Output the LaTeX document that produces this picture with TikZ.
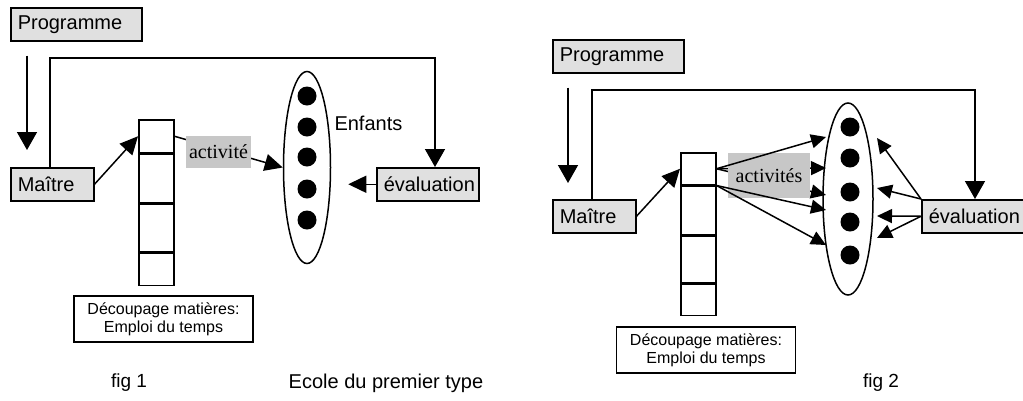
\documentclass[tikz,border=0pt]{standalone}
\usepackage{fontspec}
\setmainfont{Liberation Sans}
\newfontfamily\actfont{Liberation Serif}
\usetikzlibrary{arrows.meta,shapes.geometric}
\tikzset{
	box/.style={draw=black, line width=1.5pt, fill=black!12, inner xsep=7pt, inner ysep=0pt, minimum height=33pt, align=left, anchor=north west, font=\fontsize{20}{24}\selectfont},
	cell/.style={draw=black, line width=1.5pt, minimum width=35pt, inner sep=0pt, anchor=north west},
	pool/.style={ellipse, draw=black, line width=1.5pt, inner sep=0pt},
	dot/.style={circle, fill=black, minimum size=19pt, inner sep=0pt},
	act/.style={fill=black!22, inner sep=0pt, font=\actfont\fontsize{20}{24}\selectfont},
	plan/.style={draw=black, line width=1.5pt, align=center, inner sep=0pt, minimum width=179pt, minimum height=46pt, font=\fontsize{16}{18}\selectfont},
	caption/.style={font=\fontsize{19}{23}\selectfont},
	link/.style={draw=black, line width=1.5pt},
	arr/.style={link, -{Triangle[length=18pt,width=17pt]}},
	bigarr/.style={link, -{Triangle[length=18pt,width=20pt]}},
	smallarr/.style={link, -{Triangle[length=15pt,width=14pt]}}
}
\begin{document}
\begin{tikzpicture}[x=1pt, y=-1pt]
		\useasboundingbox (0,0) rectangle (1023,400);
		\node[box, text width=117pt] (prog1) at (10,7) {Programme};
		\node[box, text width=69pt] (maitre1) at (10,167) {Maître};
		\node[box, text width=88pt] (eval1) at (376,167) {évaluation};
		\node[cell, minimum height=33pt] (c1a) at (138,119) {};
		\node[cell, minimum height=48pt] (c1b) at (c1a.south west) {};
		\node[cell, minimum height=48pt] (c1c) at (c1b.south west) {};
		\node[cell, minimum height=32pt] (c1d) at (c1c.south west) {};
		\node[pool, minimum width=47pt, minimum height=192pt] (ell1) at (307,167.5) {};
		\foreach \y [count=\i] in {96,127,157,189,220}
			\node[dot] (e1\i) at (307,\y) {};
		\node[anchor=west, font=\fontsize{20}{24}\selectfont] (enf1) at (331,123) {Enfants};
		\node[plan] (dec1) at (163.5,319) {Découpage matières:\\Emploi du temps};
		\coordinate (x1) at (27,0);
		\coordinate (t1a) at (50,58);
		\coordinate (t1b) at (435,58);
		\draw[bigarr, shorten <=14pt, shorten >=17pt] (prog1.south -| x1) -- (maitre1.north -| x1);
		\draw[bigarr] (maitre1.north -| t1a) -- (t1a) -- (t1b) -- (eval1.north -| t1b);
		\draw[arr] (maitre1.east) -- (c1a.west);
		\draw[arr] (c1a.east) -- (ell1.west);
		\node[act, minimum width=65pt, minimum height=32pt] (act1) at (218.5,152) {activité};
		\draw[arr, shorten >=17pt] (eval1.west) -- (eval1.west -| ell1.east);

		\node[box, text width=117pt] (prog2) at (552,39) {Programme};
		\node[box, text width=69pt] (maitre2) at (552,199) {Maître};
		\node[box, text width=88pt] (eval2) at (921,199) {évaluation};
		\node[cell, minimum height=32pt] (c2a) at (680,152) {};
		\node[cell, minimum height=48pt] (c2b) at (c2a.south west) {};
		\node[cell, minimum height=47pt] (c2c) at (c2b.south west) {};
		\node[cell, minimum height=31pt] (c2d) at (c2c.south west) {};
		\node[pool, minimum width=50pt, minimum height=192pt] (ell2) at (848,199) {};
		\foreach \y [count=\i] in {127,158,192,222,255}
			\node[dot] (e2\i) at (850,\y) {};
		\node[plan] (dec2) at (706,350) {Découpage matières:\\Emploi du temps};
		\coordinate (x2) at (568,0);
		\coordinate (t2a) at (592,90);
		\coordinate (t2b) at (975,90);
		\foreach \y [count=\i] in {137,168,195,210,245}
			\coordinate (in\i) at (826,\y);
		\foreach \y [count=\i] in {138,188,216,238}
			\coordinate (out\i) at (877,\y);
		\draw[bigarr, shorten <=14pt, shorten >=16pt] (prog2.south -| x2) -- (maitre2.north -| x2);
		\draw[bigarr] (maitre2.north -| t2a) -- (t2a) -- (t2b) -- (eval2.north -| t2b);
		\draw[arr] (maitre2.east) -- (c2a.west);
		\draw[smallarr] (c2a.east) -- (in2);
		\draw[smallarr] (c2a.east) -- (in3);
		\node[act, minimum width=82pt, minimum height=45pt] (act2) at (769,175.5) {activités};
		\draw[smallarr] (c2a.east) -- (in1);
		\draw[smallarr] (c2a.south east) -- (in4);
		\draw[smallarr] (c2a.south east) -- (in5);
		\draw[smallarr] (eval2.north west) -- (out1);
		\draw[smallarr] (eval2.north west) -- (out2);
		\draw[smallarr] (eval2.west) -- (out3);
		\draw[smallarr] (eval2.west) -- (out4);

		\node[caption] (fig1) at (129,383) {fig 1};
		\node[caption, font=\fontsize{20}{24}\selectfont] (titre) at (386,383) {Ecole du premier type};
		\node[caption] (fig2) at (881,383) {fig 2};
	\end{tikzpicture}
\end{document}
